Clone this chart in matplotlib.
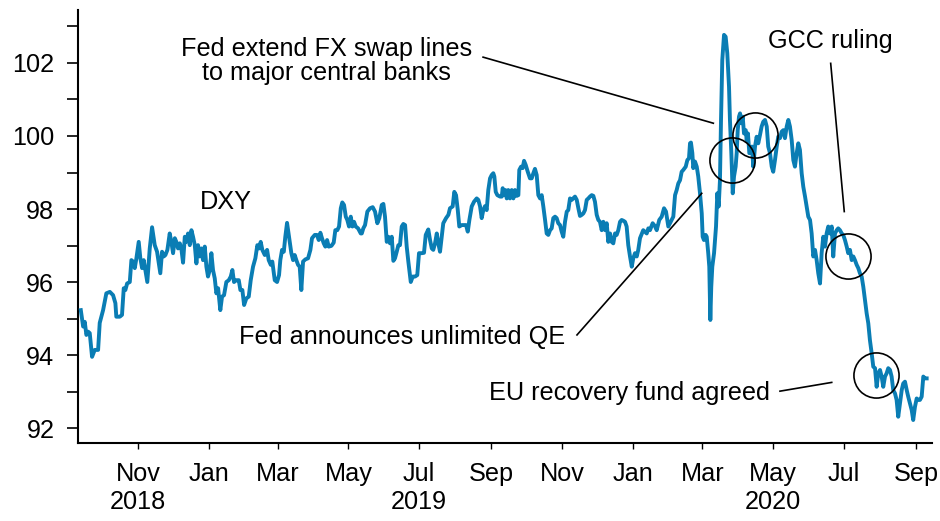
import matplotlib
matplotlib.use("Agg")
import matplotlib.pyplot as plt
from matplotlib.ticker import MultipleLocator
import pandas as pd

# ---------------- data ----------------
base_date = pd.Timestamp("2019-01-01")
# time of each observation, in days since 2019-01-01
days_from_2019 = [
    -110.5, -108.5, -107.1, -105.7, -104.2, -102.8, -100.8, -98.5, -95.6, -94.2, -91.3, -88.5, -85.5,
    -82.7, -80.7, -79.9, -76.9, -75.0, -73.5, -72.1, -70.6, -68.3, -66.9, -65.5, -64.0, -62.6, -60.6,
    -59.2, -57.7, -56.3, -54.9, -53.2, -51.1, -49.1, -46.8, -44.8, -43.3, -42.0, -40.5, -39.0, -37.6,
    -35.9, -33.9, -32.5, -31.0, -29.5, -28.2, -26.7, -25.2, -23.9, -22.4, -20.9, -19.6, -18.1, -16.6,
    -15.2, -13.8, -12.3, -10.9, -9.5, -8.0, -6.6, -5.2, -3.7, -2.3, -0.9, 0.6, 2.0, 3.4, 4.9, 6.3,
    7.8, 9.7, 11.2, 12.9, 14.9, 17.0, 18.7, 20.1, 21.5, 23.5, 25.6, 27.0, 28.7, 30.2, 32.1, 34.2,
    35.9, 37.9, 39.9, 41.6, 43.1, 44.5, 45.9, 48.0, 50.0, 51.4, 53.2, 54.5, 56.6, 58.6, 60.3, 61.4,
    62.9, 64.4, 65.7, 67.2, 68.9, 70.9, 72.4, 73.8, 75.2, 76.7, 78.1, 79.5, 81.0, 83.0, 85.3, 87.3,
    88.7, 91.1, 93.0, 94.5, 95.9, 97.3, 98.8, 100.2, 101.7, 103.1, 105.4, 107.4, 108.8, 110.5, 112.0,
    113.5, 114.8, 116.3, 117.8, 119.1, 120.6, 122.1, 123.5, 124.9, 126.4, 128.4, 130.7,
    131.6, 132.9, 134.4, 136.4, 138.7, 141.0, 143.0, 145.0, 146.7, 148.8, 150.2, 151.6, 153.1, 154.5,
    155.9, 157.4, 158.8, 160.2, 161.7, 163.1, 164.5, 166.0, 167.4, 168.9, 170.3, 171.7, 173.8, 175.5,
    177.5, 179.4, 180.9, 183.2, 185.2, 186.7, 188.9, 190.4, 191.9, 193.2, 194.7, 196.2, 197.5, 199.0,
    200.5, 201.8, 204.2, 206.2, 207.6, 209.9, 211.3, 212.8, 214.3, 215.6, 217.7, 219.7, 221.4, 222.9,
    224.3, 226.3, 228.3, 230.6, 232.0, 233.5, 234.9, 236.3, 237.8, 239.2, 240.6, 242.1, 243.5, 244.9,
    245.8, 247.0, 248.4, 250.7, 252.2, 253.0, 254.1, 255.3, 256.5, 257.8, 259.3, 260.8, 262.2, 263.6,
    265.1, 266.5, 267.3, 268.8, 270.2, 271.4, 272.8, 274.6, 276.5, 278.0, 279.4, 280.8, 282.3, 283.7,
    285.2, 286.6, 288.0, 289.5, 290.9, 292.3, 293.8, 295.2, 296.6, 298.1, 299.5, 300.9, 302.4, 303.8,
    305.2, 306.7, 308.2, 309.5, 311.0, 312.5, 313.8, 315.3, 316.8, 318.2, 319.6, 321.1, 322.5, 323.9,
    325.4, 326.8, 328.2, 329.7, 331.1, 332.5, 334.0, 335.4, 336.8, 338.3, 339.7, 341.2, 342.6, 344.0,
    345.5, 346.9, 348.3, 349.8, 351.2, 352.6, 354.1, 355.5, 356.9, 358.4, 359.8, 361.2, 362.7, 364.2,
    365.5, 367.0, 368.5, 369.8, 371.3,
    374.1, 377.1, 378.5, 379.9, 382.2, 384.2, 385.7, 387.9, 390.0, 392.0, 393.7, 395.7, 397.1, 398.6,
    400.0, 401.5, 402.9, 404.3, 405.8, 407.2, 408.6, 410.7, 412.1, 413.5, 414.4, 415.2, 416.4, 417.2,
    418.7, 420.2, 421.5, 423.0, 424.5, 425.3, 426.4, 427.9, 428.8, 430.1, 431.0, 431.9, 432.7, 433.6,
    435.1, 436.8, 437.9, 439.1, 440.2, 441.1, 442.2, 443.7, 445.1, 446.5, 448.0, 448.8, 450.0, 451.2,
    452.3, 453.7, 454.6, 455.5, 456.6, 457.5, 458.6, 459.8, 460.9, 462.4, 463.2, 464.3, 465.5, 466.7,
    467.8, 468.9, 470.4, 471.8, 473.2, 474.7, 476.1, 477.5, 479.0, 480.5, 481.8, 483.3, 484.8, 486.1,
    487.6, 489.1, 490.4, 491.9, 493.4, 494.8, 496.2, 497.7, 499.1, 500.5, 502.0, 503.4, 504.8, 506.3,
    507.7, 509.1, 510.6, 512.0, 513.5, 514.9, 516.3, 517.8, 519.2, 520.6, 522.1, 523.5, 524.9, 526.4,
    527.8, 529.2, 530.7, 532.1, 533.5, 535.0, 536.5, 537.8, 539.3, 540.8, 542.1, 543.6, 545.1, 546.4,
    547.9, 549.4, 550.7, 552.2, 553.7, 555.1, 556.5, 558.0, 559.4, 560.8, 562.3, 563.7, 565.1, 566.6,
    568.0, 569.4, 570.9, 572.3, 573.8, 575.2, 576.6, 578.1, 579.5, 580.9, 582.4, 583.8, 585.2, 586.7,
    588.1, 589.5, 591.0, 592.4, 593.8, 595.3, 596.8, 598.1, 599.6, 601.1, 602.4, 603.9, 605.4, 606.7,
    608.2, 609.7, 611.1, 612.5, 614.0, 615.4, 616.8, 618.3,
]
dxy = [
    95.23, 94.78, 94.91, 94.55, 94.64, 94.60, 93.95, 94.14, 94.14, 94.88, 95.23, 95.69, 95.73,
    95.64, 95.42, 95.05, 95.05, 95.10, 95.83, 95.78, 95.96, 96.00, 96.60, 96.56, 96.38, 96.65, 97.10,
    96.65, 96.38, 96.60, 96.33, 96.00, 96.92, 97.50, 97.01, 96.83, 96.51, 96.24, 96.83, 96.70, 96.74,
    96.88, 97.33, 97.10, 96.79, 97.20, 97.10, 96.92, 97.06, 96.92, 96.53, 97.24, 97.10, 97.33, 97.01,
    97.42, 97.24, 97.01, 96.51, 97.01, 96.70, 96.92, 96.60, 96.97, 96.42, 96.15, 96.33, 96.79, 96.33,
    96.10, 95.69, 95.83, 95.23, 95.60, 95.64, 96.00, 96.05, 96.15, 96.33, 96.00, 96.05, 96.05, 95.78,
    95.78, 95.37, 95.55, 95.60, 96.05, 96.42, 96.65, 97.01, 96.92, 97.10, 96.88, 96.74, 96.88, 96.60,
    96.47, 96.56, 96.05, 96.00, 96.19, 96.60, 96.88, 96.83, 97.24, 97.62, 97.24, 96.79, 96.60, 96.74,
    96.60, 96.47, 96.42, 95.78, 96.56, 96.62, 96.65, 96.88, 97.20, 97.29, 97.29, 97.15, 97.35, 97.20,
    97.06, 96.97, 97.15, 96.97, 96.99, 97.08, 97.42, 97.42, 97.52, 98.02, 98.18, 98.11, 97.79, 97.70,
    97.52, 97.79, 97.52, 97.65, 97.52, 97.47, 97.33,
    97.33, 97.47, 97.56, 97.93, 98.02, 98.05, 97.93, 97.61, 97.75, 98.11, 98.14, 97.79, 97.10, 97.24,
    97.06, 97.24, 96.58, 96.65, 96.83, 97.01, 97.01, 97.52, 97.59, 97.56, 96.97, 96.56, 96.00, 96.15,
    96.15, 96.19, 96.79, 96.79, 96.80, 97.29, 97.44, 97.15, 96.92, 96.88, 97.06, 97.33, 97.06, 96.83,
    97.24, 97.61, 97.75, 97.84, 98.02, 98.07, 98.47, 98.38, 97.97, 97.52, 97.56, 97.56, 97.56, 97.38,
    97.70, 98.07, 98.20, 98.29, 98.25, 98.07, 97.75, 97.97, 98.08, 97.97, 98.52, 98.84, 98.93, 98.98,
    98.89, 98.47, 98.38, 98.34, 98.34, 98.57, 98.38, 98.52, 98.29, 98.52, 98.29, 98.52, 98.29, 98.52,
    98.36, 98.38, 99.07, 99.16, 99.12, 99.32, 99.21, 99.02, 98.84, 98.84, 98.98, 99.10, 98.93, 98.38,
    98.29, 98.38, 98.07, 97.70, 97.33, 97.29, 97.42, 97.47, 97.75, 97.79, 97.75, 97.61, 97.56, 97.38,
    97.24, 97.65, 97.93, 97.97, 98.29, 98.25, 98.29, 98.34, 98.25, 98.02, 97.81, 97.84, 97.88, 97.97,
    98.25, 98.29, 98.34, 98.38, 98.36, 98.20, 97.84, 97.70, 97.65, 97.42, 97.65, 97.42, 97.61, 97.10,
    97.33, 97.10, 97.06, 97.33, 97.29, 97.42, 97.65, 97.70, 97.68, 97.65, 97.52, 97.01, 96.70, 96.42,
    96.65, 96.79, 96.70, 96.88, 97.20,
    97.42, 97.33, 97.47, 97.42, 97.61, 97.53, 97.42, 97.70, 97.79, 98.02, 97.93, 97.52, 97.61, 97.70,
    97.79, 98.38, 98.52, 98.70, 98.79, 99.02, 99.07, 99.16, 99.34, 99.39, 99.80, 99.82, 99.53, 99.12,
    99.30, 99.16, 98.89, 98.43, 97.88, 97.24, 97.15, 97.29, 97.24, 96.79, 96.42, 94.96, 95.87, 96.42,
    96.79, 97.52, 98.43, 98.07, 98.79, 100.44, 102.08, 102.77, 102.72, 102.27, 101.35, 100.44, 99.53, 98.43,
    98.89, 99.16, 99.53, 100.16, 100.53, 100.62, 100.35, 100.53, 100.07, 100.16, 99.89, 100.07, 99.53, 99.57,
    99.71, 99.16, 99.71, 99.98, 99.80, 100.03, 100.26, 100.39, 100.44, 100.26, 99.71, 99.53, 99.16, 99.02,
    99.34, 99.71, 99.98, 99.94, 100.12, 100.16, 99.94, 100.26, 100.44, 100.26, 99.89, 99.34, 99.16, 99.53,
    99.80, 99.62, 98.98, 98.61, 98.34, 98.07, 97.79, 97.70, 97.33, 96.70, 96.88, 96.60, 96.24, 95.96,
    96.79, 97.24, 96.97, 97.33, 97.52, 97.33, 97.52, 96.70, 97.33, 97.42, 97.47, 97.42, 97.33, 97.29,
    97.15, 96.97, 96.79, 96.88, 96.60, 96.70, 96.60, 96.47, 96.38, 96.24, 96.15, 95.87, 95.51, 95.14,
    94.87, 94.41, 94.05, 93.68, 93.64, 93.13, 93.50, 93.59, 93.41, 93.13, 93.41, 93.50, 93.64, 93.59,
    93.41, 93.04, 92.95, 92.77, 92.31, 92.68, 93.04, 93.22, 93.27, 93.04, 92.86, 92.68, 92.49, 92.22,
    92.58, 92.81, 92.77, 92.77, 92.86, 93.41, 93.36, 93.36,
]

tick_dates = ["2018-11-01", "2019-01-01", "2019-03-01", "2019-05-01", "2019-07-01", "2019-09-01",
              "2019-11-01", "2020-01-01", "2020-03-01", "2020-05-01", "2020-07-01", "2020-09-01"]
tick_labels = ["Nov\n2018", "Jan", "Mar", "May", "Jul\n2019", "Sep",
               "Nov", "Jan", "Mar", "May\n2020", "Jul", "Sep"]
year_start_ticks = ["2019-01-01", "2020-01-01"]

series_label = "DXY"
# events: (text, text position [days, value], line start [days, value], line end [days, value])
events = [
    ("Fed extend FX swap lines\nto major central banks", (101.4, 101.53), (236.1, 102.16), (434.5, 100.35), "center"),
    ("GCC ruling", (535.0, 102.40), (535.6, 101.99), (547.3, 97.93), "center"),
    ("Fed announces unlimited QE", (166.0, 94.29), (317.0, 94.55), (424.5, 98.43), "center"),
    ("EU recovery fund agreed", (483.3, 92.77), (491.9, 93.01), (536.5, 93.25), "right"),
]
circle_centres = [(450.3, 99.34), (470.4, 100.03), (550.2, 96.71), (574.3, 93.45)]

# ---------------- plot ----------------
plt.rcParams["font.family"] = ["Liberation Sans", "DejaVu Sans"]
FS = 18.2
LINE_COLOR = "#0a7db4"


def to_date(d):
    return base_date + pd.to_timedelta(d, unit="D")


dates = to_date(pd.Series(days_from_2019))

fig = plt.figure(figsize=(9.4, 5.21), dpi=100)
ax = fig.add_axes([0.083, 0.1497, 0.9085, 0.831])

ax.plot(dates, dxy, color=LINE_COLOR, lw=2.8, solid_joinstyle="round", zorder=3)

ax.set_xlim(to_date(-112.9), to_date(622.9))
ax.set_ylim(91.59, 103.45)

ax.spines["top"].set_visible(False)
ax.spines["right"].set_visible(False)
for s in ("left", "bottom"):
    ax.spines[s].set_linewidth(1.5)

ax.yaxis.set_major_locator(MultipleLocator(2))
ax.yaxis.set_minor_locator(MultipleLocator(1))
ax.tick_params(axis="y", which="both", direction="out", length=8, width=1.2,
               labelsize=FS, pad=9)

ax.set_xticks(pd.to_datetime(tick_dates))
ax.set_xticklabels(tick_labels, fontsize=FS, linespacing=1.17)
ax.set_xticks(pd.to_datetime(year_start_ticks), minor=True)
ax.tick_params(axis="x", which="major", direction="out", length=4.5, width=1.0, pad=9.5)
ax.tick_params(axis="x", which="minor", direction="out", length=8, width=1.5)

ax.text(to_date(14.2), 97.99, series_label, fontsize=FS, ha="center", va="baseline")

for text, tpos, lstart, lend, ha in events:
    ax.text(to_date(tpos[0]), tpos[1], text, fontsize=FS, ha=ha, va="baseline",
            multialignment="center", linespacing=1.0)
    ax.plot([to_date(lstart[0]), to_date(lend[0])], [lstart[1], lend[1]],
            color="black", lw=1.2, zorder=4)

for cx, cy in circle_centres:
    ax.plot([to_date(cx)], [cy], marker="o", markersize=32.5, markerfacecolor="none",
            markeredgecolor="black", markeredgewidth=1.2, zorder=5)

fig.savefig("out.png", dpi=100)
